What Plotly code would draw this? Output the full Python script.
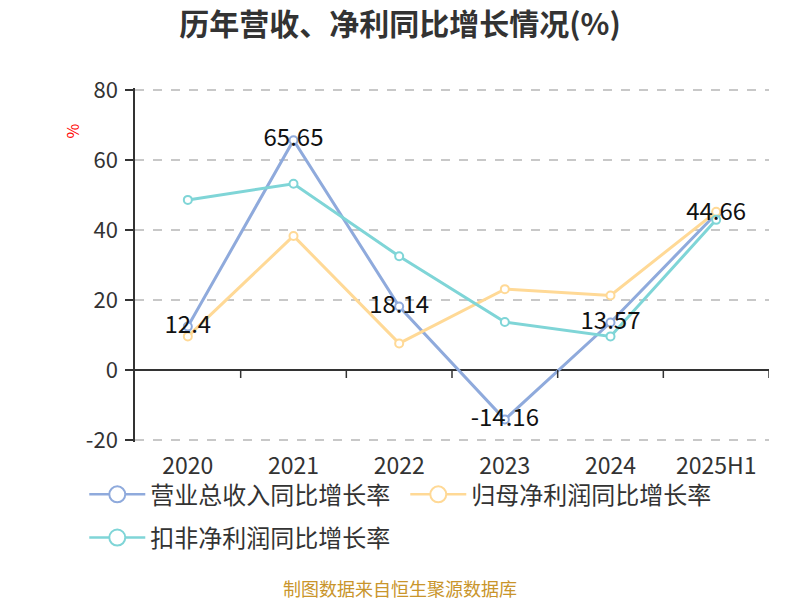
import plotly.graph_objects as go

categories = ["2020", "2021", "2022", "2023", "2024", "2025H1"]
revenue_growth = [12.4, 65.65, 18.14, -14.16, 13.57, 44.66]
parent_np_growth = [9.6, 38.3, 7.6, 23.1, 21.3, 45.2]
deducted_np_growth = [48.6, 53.2, 32.5, 13.7, 9.6, 42.9]
series_names = ["营业总收入同比增长率", "归母净利润同比增长率", "扣非净利润同比增长率"]
y_ticks = [-20, 0, 20, 40, 60, 80]

colors = ["#8FAADC", "#FFD996", "#7FD5D7"]
FONT = "Noto Sans CJK SC, Noto Sans, sans-serif"
legend_ids = ["legend", "legend", "legend2"]

fig = go.Figure()
for name, vals, c in zip(series_names, [revenue_growth, parent_np_growth, deducted_np_growth], colors):
    fig.add_trace(go.Scatter(
        x=categories, y=vals, name=name, mode="lines+markers", showlegend=False,
        line=dict(color=c, width=3),
        marker=dict(symbol="circle", size=8, color="white", line=dict(color=c, width=2)),
    ))

# labels for the revenue series, on top
fig.add_trace(go.Scatter(
    x=categories, y=revenue_growth, mode="text",
    text=[f"{v:g}" for v in revenue_growth], textposition="middle center",
    textfont=dict(size=24, color="#111", family=FONT),
    showlegend=False, hoverinfo="skip",
))

# legend entries
for name, c, lg in zip(series_names, colors, legend_ids):
    fig.add_trace(go.Scatter(
        x=[None], y=[None], name=name, mode="lines+markers", legend=lg,
        line=dict(color=c, width=2.5),
        marker=dict(symbol="circle", size=16, color="white", line=dict(color=c, width=2)),
    ))

# x-axis ticks at category boundaries on the zero line
shapes = []
for i in range(len(categories)):
    shapes.append(dict(type="line", xref="x", yref="y", x0=i + 0.5, x1=i + 0.5,
                       y0=0, y1=-2.3, line=dict(color="#333", width=1.5)))

legend_common = dict(orientation="h", x=-0.08, xanchor="left", yanchor="middle",
                     font=dict(size=24, color="#333", family=FONT), entrywidth=250,
                     itemwidth=56, bgcolor="rgba(0,0,0,0)")

fig.update_layout(
    width=800, height=600,
    paper_bgcolor="white", plot_bgcolor="white",
    margin=dict(l=135, r=31, t=88, b=158),
    font=dict(family=FONT, color="#333"),
    title=dict(text="<b>历年营收、净利同比增长情况(%)</b>", x=0.5, xanchor="center",
               xref="container", y=0.959, yanchor="middle",
               font=dict(size=30, color="#333", family=FONT)),
    xaxis=dict(type="category", range=[-0.5, 5.5], showline=False, ticks="",
               showgrid=False, zeroline=False, tickfont=dict(size=23, color="#333"),
               ticklabelstandoff=8),
    yaxis=dict(range=[-20.58, 80.58], tickvals=y_ticks, ticktext=[str(v) for v in y_ticks],
               showline=True, linecolor="#333", linewidth=1.5,
               ticks="outside", ticklen=8, tickcolor="#333", tickwidth=1.5,
               showgrid=True, gridcolor="#C8C8C8", griddash="dash", gridwidth=1.5,
               zeroline=True, zerolinecolor="#333", zerolinewidth=1.5,
               tickfont=dict(size=22, color="#333"), ticklabelstandoff=3),
    legend=dict(y=-0.149, **legend_common),
    legend2=dict(y=-0.271, **legend_common),
    shapes=shapes,
    annotations=[
        dict(text="%", xref="paper", yref="paper", x=-0.0994, y=0.88, showarrow=False,
             xanchor="center", yanchor="middle",
             textangle=-90, font=dict(size=16, color="red")),
        dict(text="制图数据来自恒生聚源数据库", xref="paper", yref="paper", x=0.418, y=-0.413,
             xanchor="center", yanchor="middle", showarrow=False,
             font=dict(size=18, color="#C9952B")),
    ],
)

fig.write_html("out.html", config={"displayModeBar": False},
               post_script="document.body.style.margin='0';document.body.style.overflow='hidden';")
